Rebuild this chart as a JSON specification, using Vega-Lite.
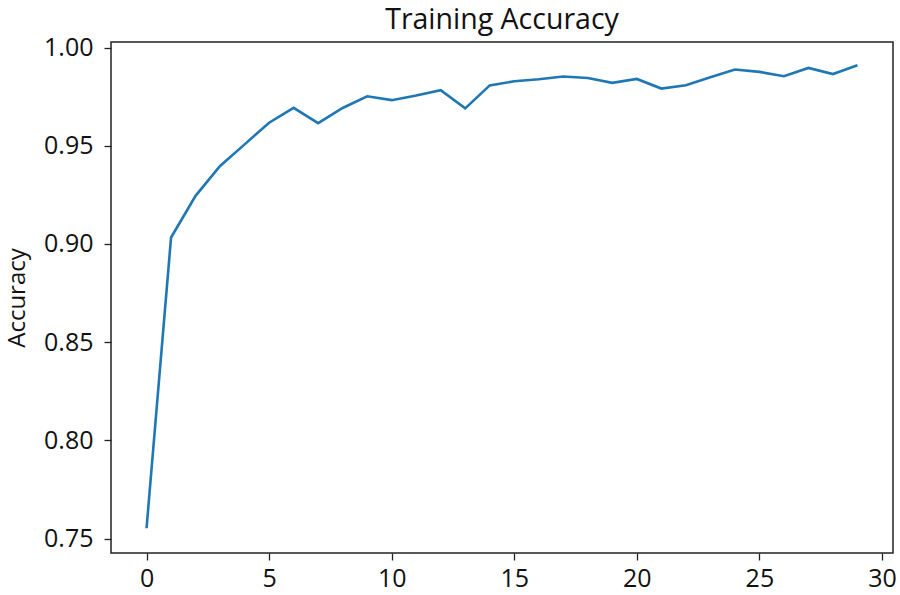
{
  "$schema": "https://vega.github.io/schema/vega-lite/v6.json",
  "width": 782,
  "height": 511,
  "autosize": {"type": "none"},
  "padding": {"left": 111, "top": 42, "right": 7, "bottom": 42},
  "background": "white",
  "title": {
    "text": "Training Accuracy",
    "font": "Open Sans",
    "fontSize": 28.5,
    "fontWeight": "normal",
    "color": "#111",
    "anchor": "middle",
    "frame": "group",
    "baseline": "alphabetic",
    "offset": 12,
    "dy": 34
  },
  "config": {
    "view": {"stroke": "#222", "strokeWidth": 1.5},
    "axis": {
      "grid": false,
      "domain": false,
      "tickColor": "#222",
      "tickWidth": 1.3,
      "tickSize": 7,
      "labelFont": "Open Sans",
      "labelFontSize": 25,
      "labelColor": "#111",
      "titleFont": "Open Sans",
      "titleFontSize": 24,
      "titleFontWeight": "normal",
      "titleColor": "#111"
    }
  },
  "data": {
    "values": [
      {"epoch": 0, "accuracy": 0.7553},
      {"epoch": 1, "accuracy": 0.9033},
      {"epoch": 2, "accuracy": 0.9245},
      {"epoch": 3, "accuracy": 0.9397},
      {"epoch": 4, "accuracy": 0.9507},
      {"epoch": 5, "accuracy": 0.9617},
      {"epoch": 6, "accuracy": 0.9693},
      {"epoch": 7, "accuracy": 0.9615},
      {"epoch": 8, "accuracy": 0.9692},
      {"epoch": 9, "accuracy": 0.9752},
      {"epoch": 10, "accuracy": 0.9732},
      {"epoch": 11, "accuracy": 0.9756},
      {"epoch": 12, "accuracy": 0.9783},
      {"epoch": 13, "accuracy": 0.9690},
      {"epoch": 14, "accuracy": 0.9807},
      {"epoch": 15, "accuracy": 0.9828},
      {"epoch": 16, "accuracy": 0.9838},
      {"epoch": 17, "accuracy": 0.9852},
      {"epoch": 18, "accuracy": 0.9845},
      {"epoch": 19, "accuracy": 0.9820},
      {"epoch": 20, "accuracy": 0.9840},
      {"epoch": 21, "accuracy": 0.9791},
      {"epoch": 22, "accuracy": 0.9808},
      {"epoch": 23, "accuracy": 0.9849},
      {"epoch": 24, "accuracy": 0.9888},
      {"epoch": 25, "accuracy": 0.9876},
      {"epoch": 26, "accuracy": 0.9854},
      {"epoch": 27, "accuracy": 0.9896},
      {"epoch": 28, "accuracy": 0.9865},
      {"epoch": 29, "accuracy": 0.9910}
    ]
  },
  "mark": {"type": "line", "color": "#1f77b4", "strokeWidth": 2.6, "clip": true},
  "encoding": {
    "x": {
      "field": "epoch",
      "type": "quantitative",
      "scale": {"domain": [-1.45, 30.45], "nice": false, "zero": false},
      "axis": {"title": null, "values": [0, 5, 10, 15, 20, 25, 30], "format": "d", "labelPadding": 6}
    },
    "y": {
      "field": "accuracy",
      "type": "quantitative",
      "scale": {"domain": [0.7427, 1.0028], "nice": false, "zero": false},
      "axis": {"title": "Accuracy", "values": [0.75, 0.8, 0.85, 0.9, 0.95, 1.0], "format": ".2f", "labelPadding": 11, "titlePadding": 14}
    }
  }
}
